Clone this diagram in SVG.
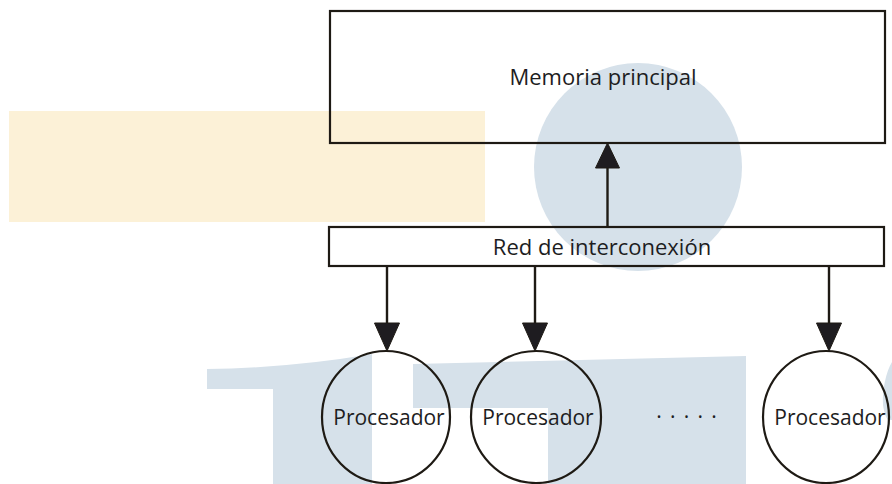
<svg xmlns="http://www.w3.org/2000/svg" width="892" height="484" viewBox="0 0 892 484">
  <defs>
    <style>
      .wm-blue { fill: #d6e1ea; }
      .wm-yellow { fill: #fcf1d7; }
      .box { fill: none; stroke: #1e1a14; stroke-width: 2.2; }
      .proc { fill: none; stroke: #1e1a14; stroke-width: 2.2; }
      .line { stroke: #1e1a14; stroke-width: 2.4; fill: none; }
      .head { fill: #1e1c20; stroke: #1e1a14; stroke-width: 1; stroke-linejoin: miter; }
      .lbl { font-family: "Open Sans", "Liberation Sans", sans-serif; font-size: 22px; fill: #1d1d22; text-anchor: middle; }
      .plbl { font-size: 21px; }
    </style>
  </defs>
  <rect width="892" height="484" fill="#ffffff"/>
  <g id="watermark">
    <rect class="wm-yellow" x="9" y="111" width="476" height="111"/>
    <circle class="wm-blue" cx="638" cy="167" r="104"/>
    <path class="wm-blue" d="M207,369 Q290,368 372,354 L372,484 L273,484 L273,389 L207,389 Z"/>
    <path class="wm-blue" d="M413,364 L746,356 L746,484 L548,484 L548,408 L413,408 Z"/>
    <path class="wm-blue" d="M892,362 C886,372 882,390 883,405 C884,412 886,418 888,420 L892,420 Z"/>
  </g>
  <g id="memoria">
    <rect class="box" x="330" y="11" width="555" height="132"/>
    <text class="lbl" x="603" y="85">Memoria principal</text>
  </g>
  <g id="red">
    <rect class="box" x="329" y="227" width="555" height="39"/>
    <text class="lbl" x="602" y="255">Red de interconexión</text>
  </g>
  <g id="proc1">
    <ellipse class="proc" cx="386" cy="417" rx="64" ry="66"/>
    <text class="lbl plbl" x="389" y="425">Procesador</text>
  </g>
  <g id="proc2">
    <ellipse class="proc" cx="536" cy="417" rx="65" ry="66"/>
    <text class="lbl plbl" x="538" y="425">Procesador</text>
  </g>
  <g id="proc3">
    <ellipse class="proc" cx="826" cy="417" rx="63" ry="66"/>
    <text class="lbl plbl" x="830" y="425">Procesador</text>
  </g>
  <g id="dots">
    <text class="lbl plbl" x="659 672.75 686.5 700.25 714" y="424">·····</text>
  </g>
  <g id="connectors">
    <line class="line" x1="607.5" y1="227" x2="607.5" y2="165"/>
    <polygon class="head" points="607.5,143 595.5,168 619.5,168"/>
    <line class="line" x1="387" y1="266" x2="387" y2="326"/>
    <polygon class="head" points="387,351 374.5,323 399.5,323"/>
    <line class="line" x1="535" y1="266" x2="535" y2="326"/>
    <polygon class="head" points="535,351 522.5,323 547.5,323"/>
    <line class="line" x1="829" y1="266" x2="829" y2="326"/>
    <polygon class="head" points="829,351 816.5,323 841.5,323"/>
  </g>
</svg>
